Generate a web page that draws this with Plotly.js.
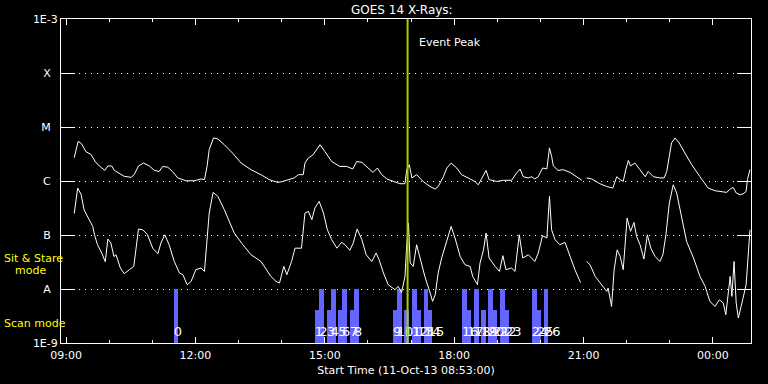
<!DOCTYPE html>
<html>
<head>
<meta charset="utf-8">
<script src="https://cdn.plot.ly/plotly-3.0.1.min.js"></script>
<style>html,body{margin:0;padding:0;background:#000;}#chart{width:768px;height:384px;}</style>
</head>
<body>
<div id="chart"></div>
<script>
// ---- data (time in decimal hours of 11-Oct-2013; >24 means 12-Oct) ----
const startHour = 8 + 53/60;
const endHour = 24 + 53/60;
const eventPeakHour = 16.92;

const longT = [9.19,9.28,9.36,9.46,9.58,9.69,9.81,9.90,9.97,10.06,10.12,10.24,10.35,10.51,10.58,10.68,10.80,10.93,11.05,11.16,11.24,11.36,11.47,11.59,11.78,11.97,12.13,12.21,12.27,12.32,12.42,12.52,12.67,12.86,13.06,13.29,13.52,13.71,13.91,14.02,14.14,14.29,14.39,14.50,14.54,14.62,14.73,14.89,15.00,15.16,15.35,15.51,15.65,15.74,15.86,16.01,16.12,16.22,16.32,16.44,16.59,16.74,16.86,16.90,16.96,17.02,17.13,17.28,17.44,17.56,17.63,17.75,17.83,17.93,18.06,18.17,18.37,18.48,18.56,18.64,18.74,18.81,18.99,19.14,19.33,19.45,19.53,19.60,19.72,19.80,19.87,19.95,20.05,20.15,20.21,20.26,20.30,20.41,20.53,20.69,20.84,20.96,21.00,21.07,21.19,21.38,21.54,21.68,21.77,21.85,21.92,21.98,22.04,22.09,22.19,22.31,22.43,22.50,22.62,22.77,22.87,22.93,22.99,23.04,23.12,23.22,23.35,23.51,23.70,23.89,24.05,24.24,24.32,24.40,24.47,24.54,24.63,24.70,24.77,24.80,24.86];
const longFlux = [2.7e-6,5.4e-6,4.9e-6,3.5e-6,3.1e-6,2.2e-6,1.8e-6,1.57e-6,1.9e-6,1.9e-6,1.57e-6,1.4e-6,1.22e-6,1.17e-6,1.31e-6,1.9e-6,2.15e-6,1.9e-6,1.57e-6,1.5e-6,1.86e-6,1.8e-6,1.5e-6,1.14e-6,1.01e-6,1.01e-6,1.09e-6,1.06e-6,1.86e-6,3.8e-6,6.3e-6,6.0e-6,4.7e-6,3.3e-6,2.15e-6,1.62e-6,1.31e-6,1.06e-6,9.4e-7,9.8e-7,1.06e-6,1.14e-6,1.31e-6,1.31e-6,2.15e-6,2.67e-6,3.07e-6,4.7e-6,3.53e-6,2.3e-6,1.86e-6,1.86e-6,1.67e-6,2.3e-6,2.21e-6,1.74e-6,1.44e-6,1.74e-6,1.31e-6,1.09e-6,9.8e-7,8.9e-7,8.9e-7,1.62e-6,2.0e-6,1.14e-6,1.31e-6,9.8e-7,7.9e-7,7.1e-7,7.9e-7,1.2e-6,1.74e-6,2.15e-6,1.74e-6,1.31e-6,1.09e-6,9.8e-7,8.5e-7,1.14e-6,1.57e-6,1.06e-6,9.8e-7,1.03e-6,1.03e-6,1.41e-6,1.67e-6,1.2e-6,1.14e-6,1.2e-6,1.09e-6,1.2e-6,1.74e-6,1.67e-6,4.1e-6,2.86e-6,1.9e-6,1.57e-6,1.62e-6,1.44e-6,1.2e-6,1.03e-6,null,1.14e-6,1.09e-6,8.9e-7,7.9e-7,7.4e-7,1.2e-6,1.06e-6,9.8e-7,1.62e-6,2.4e-6,1.9e-6,2.15e-6,1.62e-6,1.2e-6,1.5e-6,1.2e-6,1.14e-6,1.14e-6,1.5e-6,3.07e-6,5.06e-6,6.25e-6,5.06e-6,3.3e-6,2.0e-6,1.2e-6,7.4e-7,6.6e-7,6.4e-7,6.15e-7,7.1e-7,7.6e-7,6.0e-7,5.57e-7,5.8e-7,6.4e-7,1.06e-6,1.62e-6];

const shortT = [9.19,9.27,9.35,9.42,9.54,9.62,9.66,9.73,9.83,9.91,9.97,10.04,10.11,10.16,10.26,10.35,10.47,10.57,10.62,10.68,10.78,10.89,11.01,11.13,11.20,11.29,11.39,11.51,11.63,11.71,11.81,11.90,12.01,12.13,12.21,12.27,12.32,12.41,12.52,12.67,12.90,13.10,13.29,13.52,13.64,13.75,13.87,13.95,14.05,14.12,14.23,14.31,14.46,14.54,14.62,14.70,14.77,14.87,14.97,15.06,15.16,15.28,15.39,15.47,15.58,15.66,15.75,15.86,15.96,16.09,16.19,16.26,16.36,16.47,16.63,16.70,16.78,16.86,16.90,16.94,16.98,17.05,17.13,17.23,17.32,17.42,17.50,17.56,17.63,17.71,17.83,17.93,18.02,18.14,18.25,18.37,18.43,18.54,18.60,18.68,18.74,18.81,18.95,19.05,19.13,19.20,19.33,19.41,19.51,19.59,19.72,19.80,19.87,19.95,20.05,20.15,20.21,20.26,20.34,20.45,20.57,20.69,20.80,20.93,21.00,21.07,21.15,21.27,21.42,21.54,21.57,21.65,21.71,21.78,21.85,21.92,22.01,22.09,22.17,22.23,22.31,22.40,22.48,22.56,22.66,22.77,22.84,22.91,22.99,23.08,23.16,23.28,23.39,23.55,23.70,23.82,23.93,24.05,24.15,24.24,24.30,24.40,24.44,24.49,24.54,24.59,24.63,24.69,24.77,24.82,24.86];
const shortFlux = [2.5e-7,7.4e-7,5.6e-7,2.9e-7,1.9e-7,1.44e-7,1.01e-7,6.6e-8,4.6e-8,3.2e-8,8.4e-8,7.1e-8,4.0e-8,4.3e-8,2.45e-8,1.92e-8,2.28e-8,2.62e-8,5.3e-8,1.29e-7,1.25e-7,1.01e-7,5.7e-8,4.5e-8,7.1e-8,1.01e-7,6.6e-8,3.24e-8,1.98e-8,1.84e-8,1.2e-8,1.38e-8,2.28e-8,2.45e-8,2.12e-8,7.1e-8,2.55e-7,6.15e-7,5.2e-7,2.94e-7,1.09e-7,6.6e-8,4.3e-8,3.24e-8,2.28e-8,1.71e-8,1.38e-8,1.29e-8,2.62e-8,1.84e-8,3.24e-8,5.7e-8,5.7e-8,2.55e-7,2.73e-7,1.92e-7,3.16e-7,4.19e-7,2.55e-7,1.25e-7,8.2e-8,5.7e-8,7.3e-8,6.6e-8,5.2e-8,7.1e-8,1.29e-7,8.2e-8,4.3e-8,3.24e-8,4.64e-8,3.49e-8,1.98e-8,1.2e-8,9.7e-9,1.12e-8,8.6e-9,1.71e-8,6.6e-8,1.67e-7,3.03e-8,2.62e-8,6.6e-8,3.24e-8,1.71e-8,9.7e-9,5.9e-9,7.8e-9,1.98e-8,3.75e-8,8.2e-8,1.44e-7,8.8e-8,4.0e-8,2.82e-8,2.62e-8,1.71e-8,1.2e-8,3.03e-8,5.3e-8,1.09e-7,3.75e-8,2.62e-8,2.12e-8,4.14e-8,2.28e-8,2.45e-8,2.12e-8,1.01e-7,3.75e-8,4.3e-8,3.75e-8,3.24e-8,4.64e-8,9.7e-8,8.8e-8,5.2e-7,1.25e-7,8.2e-8,6.6e-8,7.3e-8,4.0e-8,2.28e-8,1.32e-8,null,3.24e-8,2.82e-8,1.71e-8,1.2e-8,9.0e-9,1.04e-8,4.76e-9,2.28e-8,5.3e-8,4.0e-8,2.28e-8,2.06e-7,1.17e-7,1.71e-7,9.4e-8,6.6e-8,3.6e-8,1.01e-7,5.7e-8,4.0e-8,3.24e-8,4.3e-8,1.01e-7,3.9e-7,8.5e-7,6.0e-7,1.92e-7,7.6e-8,3.75e-8,1.71e-8,1.12e-8,5.9e-9,4.76e-9,6.3e-9,5.5e-9,3.34e-9,1.71e-8,7.3e-9,3.24e-8,5.5e-9,2.9e-9,3.85e-9,6.3e-9,1.2e-8,5.3e-8,1.25e-7];

const scanIds   = [0,1,2,3,4,5,6,7,8,9,10,11,12,13,14,15,16,17,18,19,20,21,22,23,24,25,26];
const scanStart = [11.50,14.77,14.87,15.05,15.14,15.31,15.40,15.58,15.68,16.58,16.67,16.84,17.02,17.14,17.30,17.39,18.18,18.30,18.46,18.62,18.78,18.90,19.06,19.18,19.80,19.92,20.08];
const scanEnd   = [11.60,14.87,14.98,15.14,15.26,15.40,15.52,15.68,15.79,16.67,16.79,16.95,17.14,17.23,17.39,17.49,18.30,18.39,18.58,18.74,18.90,18.99,19.18,19.27,19.92,20.01,20.18];
const scanTop   = [1e-8,4.1e-9,1e-8,4.1e-9,1e-8,4.1e-9,1e-8,4.1e-9,1e-8,4.1e-9,1e-8,4.1e-9,1e-8,4.1e-9,1e-8,4.1e-9,1e-8,4.1e-9,1e-8,4.1e-9,1e-8,4.1e-9,1e-8,4.1e-9,1e-8,4.1e-9,1e-8];
const scanLabelLevel = 1.53e-9;

const yTickVals = [1e-9,1e-8,1e-7,1e-6,1e-5,1e-4,1e-3];
const yTickText = ['1E-9','A','B','C','M','X','1E-3'];

// ---- helpers ----
const base = Date.UTC(2013, 9, 11);
function toDate(h) {
  return new Date(base + Math.round(h * 3600000)).toISOString().slice(0, 19).replace('T', ' ');
}
const HOUR = 3600000;
const pad = '\u00a0\u00a0';
const tickText = yTickText.map(t => t.length === 1 ? t + pad : t);

const traces = [
  {
    type: 'bar',
    x: scanStart.map((s, i) => toDate((s + scanEnd[i]) / 2)),
    y: scanTop,
    width: scanStart.map((s, i) => (scanEnd[i] - s) * HOUR),
    marker: {color: '#6464ff', line: {width: 0}},
    hoverinfo: 'skip'
  },
  {
    type: 'scatter', mode: 'lines',
    x: longT.map(toDate), y: longFlux,
    line: {color: '#ffffff', width: 1},
    connectgaps: false, hoverinfo: 'skip'
  },
  {
    type: 'scatter', mode: 'lines',
    x: shortT.map(toDate), y: shortFlux,
    line: {color: '#ffffff', width: 1},
    connectgaps: false, hoverinfo: 'skip'
  },
  {
    type: 'scatter', mode: 'text',
    x: scanStart.map(toDate), y: scanStart.map(() => scanLabelLevel),
    text: scanIds.map(String),
    textposition: 'middle right',
    textfont: {color: '#ffffff', size: 13, family: 'DejaVu Sans'},
    hoverinfo: 'skip'
  }
];

const layout = {
  width: 768, height: 384,
  paper_bgcolor: '#000000', plot_bgcolor: '#000000',
  margin: {l: 61, r: 17, t: 19, b: 41, pad: 0},
  font: {family: 'DejaVu Sans', color: '#ffffff', size: 11},
  showlegend: false,
  hovermode: false,
  bargap: 0,
  title: {
    text: 'GOES 14 X-Rays:',
    font: {size: 12, color: '#ffffff'},
    xref: 'paper', x: 0.494, xanchor: 'center',
    yref: 'container', y: 1 - 9.5/384, yanchor: 'middle'
  },
  xaxis: {
    type: 'date',
    range: [toDate(startHour), toDate(endHour)],
    tick0: toDate(9), dtick: 3 * HOUR,
    tickformat: '%H:%M',
    ticks: 'inside', ticklen: 6, tickcolor: '#ffffff', tickwidth: 1,
    minor: {tick0: toDate(9), dtick: HOUR, ticks: 'inside', ticklen: 3, tickcolor: '#ffffff', showgrid: false},
    showline: true, linecolor: '#ffffff', linewidth: 1, mirror: 'ticks',
    showgrid: false, zeroline: false,
    tickfont: {size: 11, color: '#ffffff'},
    ticklabelstandoff: 2,
    title: {text: 'Start Time (11-Oct-13 08:53:00)', font: {size: 11, color: '#ffffff'}, standoff: 5}
  },
  yaxis: {
    type: 'log',
    range: [-9, -3],
    tickvals: yTickVals, ticktext: tickText,
    ticks: 'inside', ticklen: 14, tickcolor: '#ffffff', tickwidth: 1,
    showline: true, linecolor: '#ffffff', linewidth: 1, mirror: 'ticks',
    showgrid: true, gridcolor: '#ffffff', gridwidth: 1, griddash: '1px,5px',
    zeroline: false,
    tickfont: {size: 11, color: '#ffffff'}
  },
  shapes: [{
    type: 'line', xref: 'x', yref: 'paper',
    x0: toDate(eventPeakHour), x1: toDate(eventPeakHour), y0: 0, y1: 1,
    line: {color: '#a0d000', width: 2}, layer: 'above'
  }],
  annotations: [
    {text: 'Event Peak', xref: 'x', x: toDate(eventPeakHour), xanchor: 'left', xshift: 9,
     yref: 'paper', y: 0.927, yanchor: 'middle', showarrow: false, font: {size: 11, color: '#ffffff'}},
    {text: 'Sit & Stare', xref: 'paper', x: -0.0855, xanchor: 'left',
     yref: 'paper', y: 0.26, yanchor: 'middle', showarrow: false, font: {size: 11, color: '#ffff00'}},
    {text: 'mode', xref: 'paper', x: -0.070, xanchor: 'left',
     yref: 'paper', y: 0.223, yanchor: 'middle', showarrow: false, font: {size: 11, color: '#ffff00'}},
    {text: 'Scan mode', xref: 'paper', x: -0.0855, xanchor: 'left',
     yref: 'paper', y: 0.0596, yanchor: 'middle', showarrow: false, font: {size: 11, color: '#ffff00'}}
  ]
};

Plotly.newPlot('chart', traces, layout, {staticPlot: true, displayModeBar: false});
</script>
</body>
</html>
